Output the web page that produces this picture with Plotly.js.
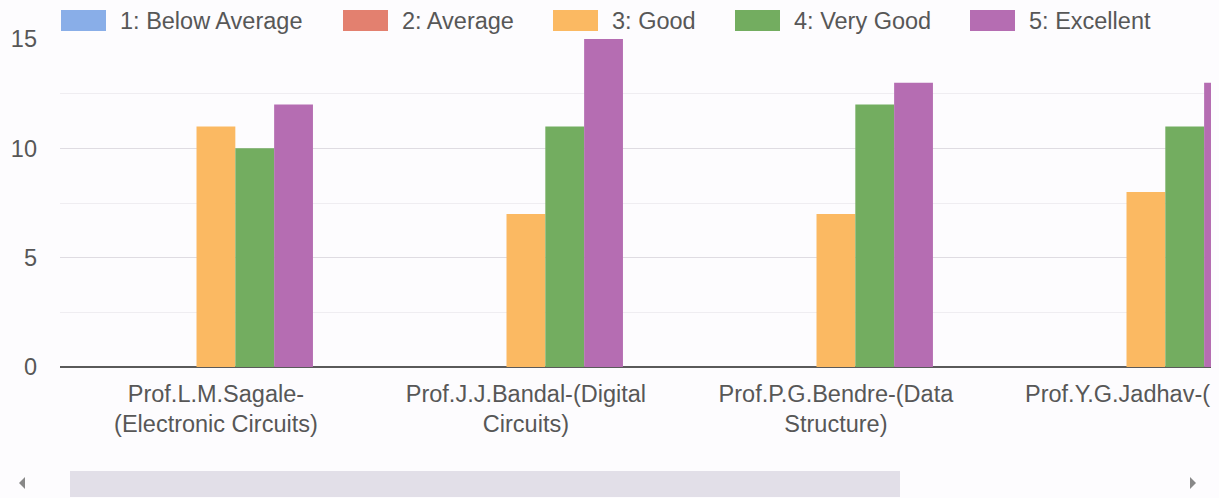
<!DOCTYPE html>
<html><head><meta charset="utf-8">
<script src="https://cdn.plot.ly/plotly-3.0.1.min.js"></script>
<style>html,body{margin:0;padding:0;background:#fdfcfe;overflow:hidden}</style>
</head><body><div id="chart" style="width:1219px;height:498px"></div>
<script>
// ---- data ----
const categories = [
  "Prof.L.M.Sagale-<br>(Electronic Circuits)",
  "Prof.J.J.Bandal-(Digital<br>Circuits)",
  "Prof.P.G.Bendre-(Data<br>Structure)",
  "Prof.Y.G.Jadhav-("
];
const seriesNames = ["1: Below Average", "2: Average", "3: Good", "4: Very Good", "5: Excellent"];
const belowAverage = [0, 0, 0, 0];
const average = [0, 0, 0, 0];
const good = [11, 7, 7, 8];
const veryGood = [10, 11, 12, 11];
const excellent = [12, 15, 13, 13];
const yTicks = [0, 5, 10, 15];

// ---- style ----
const colors = ["#89aee8", "#e3806f", "#fbb962", "#73ad60", "#b56db2"];
const W = 1219, H = 498;
const M = {l: 60, r: 8, t: 39, b: 131};
const PW = W - M.l - M.r, PH = H - M.t - M.b;
const FONT = '"Liberation Sans", Arial, sans-serif';
const TXT = '#575757';
const px2x = p => (p - M.l) / PW;
const py2y = p => (H - M.b - p) / PH;

const allSeries = [belowAverage, average, good, veryGood, excellent];
const traces = allSeries.map((vals, i) => ({
  type: 'bar',
  name: seriesNames[i],
  x: categories,
  y: vals,
  marker: {color: colors[i], line: {width: 0}},
  showlegend: false,
  hoverinfo: 'x+y+name'
}));

// custom legend (large swatches like the original)
const swatchLeft = [61, 343, 553, 735, 970];
const shapes = [];
const annotations = [];
seriesNames.forEach((n, i) => {
  shapes.push({type: 'rect', xref: 'paper', yref: 'paper', layer: 'above',
    x0: px2x(swatchLeft[i]), x1: px2x(swatchLeft[i] + 45),
    y0: py2y(31), y1: py2y(10),
    fillcolor: colors[i], line: {width: 0}});
  annotations.push({xref: 'paper', yref: 'paper', x: px2x(swatchLeft[i] + 57), y: py2y(20.5),
    xanchor: 'left', yanchor: 'middle', showarrow: false, text: n,
    font: {family: FONT, size: 23.5, color: TXT}});
});
// last category label is clipped by the scroll viewport in the original:
// draw its visible part left-aligned where the original text starts
const lastIdx = categories.length - 1;
annotations.push({xref: 'paper', yref: 'paper', x: px2x(1023), y: 0, yshift: -12,
  xanchor: 'left', yanchor: 'top', showarrow: false, text: categories[lastIdx],
  font: {family: FONT, size: 23.5, color: TXT}});

// scrollbar
shapes.push({type: 'rect', xref: 'paper', yref: 'paper', layer: 'above',
  x0: px2x(70), x1: px2x(900), y0: py2y(497), y1: py2y(471),
  fillcolor: '#e2dfe8', line: {width: 0}});
function tri(pts) {
  return 'M' + pts.map(p => px2x(p[0]) + ',' + py2y(p[1])).join('L') + 'Z';
}
shapes.push({type: 'path', xref: 'paper', yref: 'paper', layer: 'above',
  path: tri([[19, 483], [25, 477], [25, 489]]), fillcolor: '#888', line: {width: 0}});
shapes.push({type: 'path', xref: 'paper', yref: 'paper', layer: 'above',
  path: tri([[1196, 483], [1190, 477], [1190, 489]]), fillcolor: '#888', line: {width: 0}});

const layout = {
  width: W, height: H,
  margin: M,
  paper_bgcolor: '#fdfcfe',
  plot_bgcolor: '#fdfcfe',
  barmode: 'group',
  bargap: 0.374,
  bargroupgap: 0,
  font: {family: FONT, size: 23.5, color: TXT},
  xaxis: {
    type: 'category',
    range: [-0.503, 3.21],
    tickmode: 'array',
    tickvals: categories,
    ticktext: categories.map((c, i) => i === lastIdx ? '' : c),
    showgrid: false, zeroline: false, showline: false,
    ticks: '', ticklabelstandoff: 10,
    tickfont: {family: FONT, size: 23.5, color: TXT},
    fixedrange: true
  },
  yaxis: {
    range: [0, 15],
    tickvals: yTicks,
    ticktext: yTicks.map(String),
    showgrid: true, gridcolor: '#dfdce2', gridwidth: 1,
    minor: {dtick: 2.5, tick0: 0, showgrid: true, gridcolor: '#efedf1', gridwidth: 1, ticks: ''},
    zeroline: true, zerolinecolor: '#5a5a5a', zerolinewidth: 2,
    showline: false, ticks: '', ticklabelstandoff: 22,
    tickfont: {family: FONT, size: 23.5, color: TXT},
    fixedrange: true
  },
  shapes: shapes,
  annotations: annotations
};

Plotly.newPlot('chart', traces, layout, {displayModeBar: false, staticPlot: true});
</script>
</body></html>
